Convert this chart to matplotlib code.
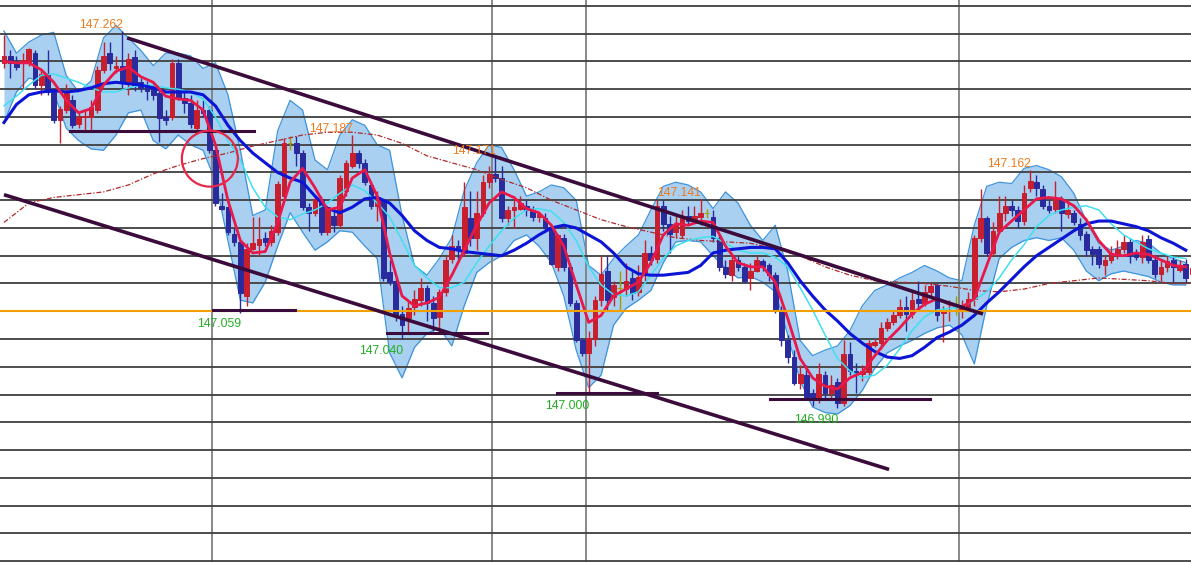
import matplotlib
matplotlib.use("Agg")
import matplotlib.pyplot as plt
from matplotlib.patches import Ellipse
import numpy as np

# 5-minute candles, oldest first
opens = [
    147.239, 147.244, 147.239, 147.239, 147.239, 147.246, 147.223, 147.231, 147.218, 147.198,
    147.205, 147.212, 147.195, 147.200, 147.200, 147.205, 147.234, 147.246, 147.235, 147.237,
    147.225, 147.243, 147.225, 147.223, 147.221, 147.217, 147.200, 147.200, 147.239, 147.214,
    147.210, 147.192, 147.205, 147.205, 147.176, 147.136, 147.135, 147.116, 147.110, 147.071,
    147.105, 147.108, 147.113, 147.110, 147.117, 147.143, 147.181, 147.181, 147.174, 147.135,
    147.131, 147.141, 147.117, 147.129, 147.122, 147.147, 147.165, 147.174, 147.167, 147.151,
    147.136, 147.140, 147.088, 147.082, 147.058, 147.055, 147.063, 147.068, 147.077, 147.066,
    147.056, 147.074, 147.098, 147.107, 147.102, 147.127, 147.113, 147.131, 147.153, 147.159,
    147.156, 147.127, 147.133, 147.134, 147.136, 147.133, 147.128, 147.127, 147.120, 147.092,
    147.113, 147.092, 147.066, 147.039, 147.030, 147.040, 147.068, 147.089, 147.070, 147.077,
    147.076, 147.084, 147.074, 147.086, 147.102, 147.098, 147.136, 147.123, 147.117, 147.115,
    147.129, 147.125, 147.128, 147.131, 147.128, 147.113, 147.092, 147.086, 147.097, 147.092,
    147.084, 147.089, 147.096, 147.093, 147.086, 147.061, 147.039, 147.027, 147.008, 147.014,
    147.001, 146.996, 147.014, 147.001, 147.009, 146.994, 147.029, 147.017, 147.015, 147.016,
    147.036, 147.037, 147.048, 147.052, 147.057, 147.063, 147.058, 147.069, 147.066, 147.074,
    147.079, 147.059, 147.060, 147.061, 147.061, 147.063, 147.069, 147.113, 147.127, 147.102,
    147.118, 147.131, 147.136, 147.133, 147.125, 147.149, 147.153, 147.148, 147.136, 147.134,
    147.140, 147.130, 147.131, 147.123, 147.116, 147.105, 147.105, 147.093, 147.097, 147.101,
    147.105, 147.110, 147.102, 147.099, 147.112, 147.097, 147.087, 147.092, 147.097, 147.090,
    147.094, 147.087,
]
highs = [
    147.259, 147.248, 147.244, 147.246, 147.250, 147.248, 147.234, 147.248, 147.219, 147.208,
    147.224, 147.216, 147.203, 147.206, 147.212, 147.237, 147.254, 147.254, 147.244, 147.262,
    147.246, 147.248, 147.228, 147.226, 147.225, 147.219, 147.205, 147.242, 147.242, 147.219,
    147.216, 147.212, 147.212, 147.208, 147.177, 147.145, 147.136, 147.120, 147.111, 147.109,
    147.128, 147.128, 147.117, 147.122, 147.154, 147.185, 147.186, 147.186, 147.176, 147.138,
    147.143, 147.143, 147.136, 147.135, 147.158, 147.169, 147.187, 147.176, 147.170, 147.152,
    147.147, 147.141, 147.097, 147.084, 147.064, 147.068, 147.075, 147.084, 147.079, 147.071,
    147.076, 147.100, 147.115, 147.111, 147.153, 147.147, 147.147, 147.158, 147.165, 147.171,
    147.165, 147.136, 147.143, 147.143, 147.140, 147.136, 147.131, 147.131, 147.122, 147.116,
    147.116, 147.095, 147.068, 147.041, 147.046, 147.071, 147.100, 147.100, 147.082, 147.089,
    147.095, 147.089, 147.093, 147.111, 147.107, 147.140, 147.140, 147.129, 147.129, 147.133,
    147.136, 147.136, 147.141, 147.134, 147.133, 147.115, 147.097, 147.100, 147.100, 147.095,
    147.095, 147.100, 147.098, 147.095, 147.088, 147.064, 147.043, 147.032, 147.021, 147.021,
    147.004, 147.023, 147.017, 147.014, 147.012, 147.039, 147.038, 147.023, 147.021, 147.039,
    147.040, 147.052, 147.055, 147.061, 147.069, 147.071, 147.075, 147.082, 147.079, 147.081,
    147.080, 147.064, 147.068, 147.071, 147.068, 147.074, 147.115, 147.148, 147.129, 147.124,
    147.143, 147.143, 147.140, 147.136, 147.151, 147.162, 147.158, 147.151, 147.140, 147.154,
    147.143, 147.140, 147.133, 147.127, 147.118, 147.107, 147.107, 147.100, 147.107, 147.111,
    147.115, 147.113, 147.105, 147.115, 147.115, 147.100, 147.097, 147.100, 147.100, 147.097,
    147.098, 147.095,
]
lows = [
    147.235, 147.228, 147.234, 147.221, 147.237, 147.221, 147.216, 147.216, 147.196, 147.181,
    147.203, 147.192, 147.192, 147.189, 147.189, 147.203, 147.232, 147.234, 147.232, 147.221,
    147.216, 147.219, 147.218, 147.212, 147.212, 147.182, 147.194, 147.198, 147.212, 147.203,
    147.192, 147.190, 147.201, 147.174, 147.136, 147.133, 147.115, 147.107, 147.059, 147.064,
    147.104, 147.100, 147.107, 147.107, 147.115, 147.142, 147.176, 147.165, 147.133, 147.118,
    147.129, 147.115, 147.115, 147.117, 147.120, 147.143, 147.163, 147.163, 147.151, 147.134,
    147.125, 147.082, 147.079, 147.053, 147.040, 147.045, 147.057, 147.064, 147.053, 147.046,
    147.045, 147.071, 147.095, 147.098, 147.100, 147.107, 147.104, 147.129, 147.149, 147.153,
    147.124, 147.122, 147.120, 147.133, 147.129, 147.125, 147.124, 147.118, 147.093, 147.089,
    147.089, 147.064, 147.038, 147.028, 147.000, 147.035, 147.064, 147.061, 147.064, 147.061,
    147.071, 147.068, 147.071, 147.082, 147.093, 147.095, 147.118, 147.102, 147.113, 147.113,
    147.122, 147.124, 147.122, 147.127, 147.110, 147.089, 147.084, 147.082, 147.089, 147.080,
    147.075, 147.088, 147.089, 147.082, 147.059, 147.035, 147.023, 147.007, 147.004, 146.996,
    146.992, 146.994, 146.996, 146.997, 146.990, 146.992, 147.014, 147.001, 147.010, 147.014,
    147.034, 147.033, 147.046, 147.050, 147.055, 147.046, 147.055, 147.061, 147.064, 147.071,
    147.053, 147.038, 147.053, 147.057, 147.055, 147.061, 147.064, 147.110, 147.100, 147.100,
    147.116, 147.125, 147.129, 147.120, 147.122, 147.146, 147.143, 147.134, 147.131, 147.131,
    147.118, 147.127, 147.122, 147.111, 147.100, 147.093, 147.091, 147.086, 147.095, 147.098,
    147.102, 147.095, 147.097, 147.095, 147.095, 147.084, 147.082, 147.088, 147.081, 147.088,
    147.080, 147.084,
]
closes = [
    147.244, 147.239, 147.236, 147.241, 147.249, 147.223, 147.231, 147.218, 147.198, 147.206,
    147.217, 147.194, 147.200, 147.201, 147.207, 147.234, 147.244, 147.239, 147.237, 147.225,
    147.242, 147.223, 147.221, 147.219, 147.216, 147.199, 147.198, 147.239, 147.214, 147.210,
    147.195, 147.205, 147.203, 147.176, 147.138, 147.134, 147.117, 147.110, 147.073, 147.105,
    147.109, 147.112, 147.110, 147.118, 147.152, 147.181, 147.181, 147.174, 147.135, 147.131,
    147.141, 147.117, 147.135, 147.122, 147.156, 147.167, 147.174, 147.167, 147.153, 147.136,
    147.142, 147.084, 147.081, 147.057, 147.050, 147.062, 147.069, 147.077, 147.066, 147.055,
    147.074, 147.097, 147.107, 147.104, 147.135, 147.113, 147.131, 147.153, 147.159, 147.156,
    147.127, 147.133, 147.135, 147.138, 147.133, 147.128, 147.130, 147.120, 147.094, 147.115,
    147.092, 147.066, 147.039, 147.030, 147.041, 147.068, 147.087, 147.068, 147.079, 147.077,
    147.082, 147.073, 147.085, 147.102, 147.097, 147.136, 147.123, 147.116, 147.122, 147.127,
    147.125, 147.129, 147.131, 147.131, 147.113, 147.092, 147.087, 147.097, 147.092, 147.082,
    147.089, 147.097, 147.092, 147.086, 147.061, 147.039, 147.027, 147.008, 147.015, 146.998,
    146.996, 147.015, 147.001, 147.007, 146.994, 147.029, 147.017, 147.015, 147.017, 147.037,
    147.038, 147.048, 147.052, 147.057, 147.063, 147.058, 147.068, 147.066, 147.074, 147.078,
    147.057, 147.061, 147.061, 147.061, 147.063, 147.069, 147.113, 147.127, 147.102, 147.118,
    147.131, 147.136, 147.133, 147.125, 147.145, 147.154, 147.149, 147.136, 147.133, 147.141,
    147.131, 147.133, 147.124, 147.115, 147.104, 147.101, 147.094, 147.097, 147.102, 147.105,
    147.110, 147.100, 147.099, 147.110, 147.097, 147.087, 147.092, 147.096, 147.092, 147.092,
    147.084, 147.091,
]

# indicator lines, read every 2nd candle
ind_x = list(range(0, 192, 2))
ma_fast = [  # red
    147.240, 147.239, 147.239, 147.234, 147.225, 147.212, 147.203, 147.206, 147.223, 147.233,
    147.236, 147.229, 147.225, 147.215, 147.213, 147.212, 147.205, 147.180, 147.140, 147.111,
    147.102, 147.103, 147.124, 147.153, 147.163, 147.149, 147.133, 147.135, 147.156, 147.162,
    147.143, 147.102, 147.071, 147.064, 147.066, 147.070, 147.086, 147.104, 147.122, 147.138,
    147.146, 147.142, 147.134, 147.131, 147.122, 147.107, 147.079, 147.052, 147.057, 147.071,
    147.076, 147.081, 147.095, 147.115, 147.123, 147.122, 147.125, 147.124, 147.107, 147.095,
    147.092, 147.092, 147.081, 147.055, 147.026, 147.012, 147.006, 147.004, 147.012, 147.016,
    147.028, 147.039, 147.048, 147.058, 147.065, 147.069, 147.065, 147.063, 147.069, 147.093,
    147.117, 147.125, 147.133, 147.141, 147.142, 147.141, 147.136, 147.126, 147.111, 147.101,
    147.100, 147.102, 147.101, 147.097, 147.093, 147.092,
]
ma_mid = [  # cyan
    147.208, 147.215, 147.223, 147.230, 147.231, 147.228, 147.225, 147.221, 147.218, 147.218,
    147.221, 147.223, 147.223, 147.221, 147.220, 147.218, 147.213, 147.200, 147.183, 147.169,
    147.149, 147.135, 147.128, 147.126, 147.130, 147.133, 147.138, 147.145, 147.151, 147.147,
    147.138, 147.128, 147.111, 147.093, 147.084, 147.077, 147.077, 147.081, 147.095, 147.107,
    147.118, 147.127, 147.133, 147.134, 147.132, 147.124, 147.111, 147.092, 147.079, 147.072,
    147.071, 147.074, 147.086, 147.098, 147.107, 147.111, 147.113, 147.114, 147.109, 147.104,
    147.102, 147.102, 147.099, 147.092, 147.077, 147.061, 147.043, 147.026, 147.017, 147.012,
    147.014, 147.021, 147.033, 147.046, 147.056, 147.061, 147.062, 147.063, 147.068, 147.074,
    147.084, 147.097, 147.108, 147.121, 147.129, 147.133, 147.135, 147.136, 147.133, 147.123,
    147.115, 147.110, 147.105, 147.102, 147.099, 147.098,
]
ma_slow = [  # blue
    147.196, 147.209, 147.216, 147.218, 147.219, 147.218, 147.219, 147.221, 147.224, 147.225,
    147.224, 147.223, 147.221, 147.218, 147.218, 147.218, 147.216, 147.208, 147.194, 147.183,
    147.174, 147.167, 147.160, 147.156, 147.153, 147.143, 147.134, 147.131, 147.135, 147.141,
    147.142, 147.138, 147.129, 147.118, 147.111, 147.106, 147.105, 147.103, 147.102, 147.101,
    147.100, 147.104, 147.109, 147.115, 147.120, 147.122, 147.120, 147.115, 147.110, 147.102,
    147.092, 147.087, 147.086, 147.086, 147.087, 147.088, 147.093, 147.102, 147.104, 147.105,
    147.106, 147.106, 147.105, 147.095, 147.082, 147.071, 147.061, 147.053, 147.044, 147.037,
    147.031, 147.027, 147.026, 147.028, 147.034, 147.041, 147.045, 147.050, 147.057, 147.066,
    147.074, 147.083, 147.092, 147.100, 147.106, 147.112, 147.118, 147.123, 147.125, 147.125,
    147.123, 147.121, 147.118, 147.113, 147.109, 147.104,
]
band_upper = [
    147.262, 147.246, 147.254, 147.259, 147.261, 147.230, 147.218, 147.226, 147.257, 147.266,
    147.257, 147.248, 147.237, 147.246, 147.246, 147.244, 147.235, 147.239, 147.216, 147.176,
    147.129, 147.133, 147.190, 147.212, 147.205, 147.169, 147.162, 147.187, 147.198, 147.194,
    147.180, 147.176, 147.129, 147.093, 147.086, 147.098, 147.113, 147.147, 147.167, 147.180,
    147.178, 147.162, 147.143, 147.146, 147.151, 147.149, 147.140, 147.093, 147.086, 147.098,
    147.107, 147.115, 147.133, 147.150, 147.153, 147.151, 147.146, 147.134, 147.146, 147.138,
    147.122, 147.111, 147.122, 147.089, 147.039, 147.028, 147.032, 147.035, 147.046, 147.064,
    147.075, 147.079, 147.084, 147.088, 147.093, 147.089, 147.084, 147.082, 147.122, 147.150,
    147.153, 147.152, 147.163, 147.165, 147.162, 147.157, 147.145, 147.125, 147.109, 147.104,
    147.107, 147.111, 147.109, 147.102, 147.098, 147.095,
]
band_lower = [
    147.196, 147.218, 147.228, 147.226, 147.218, 147.192, 147.183, 147.177, 147.176, 147.187,
    147.203, 147.205, 147.183, 147.177, 147.187, 147.180, 147.176, 147.154, 147.111, 147.068,
    147.066, 147.081, 147.107, 147.131, 147.117, 147.104, 147.110, 147.118, 147.117, 147.107,
    147.098, 147.030, 147.012, 147.034, 147.044, 147.048, 147.035, 147.064, 147.088, 147.095,
    147.100, 147.111, 147.115, 147.107, 147.095, 147.071, 147.032, 147.005, 147.014, 147.050,
    147.062, 147.068, 147.075, 147.095, 147.110, 147.111, 147.110, 147.100, 147.091, 147.084,
    147.085, 147.081, 147.074, 147.043, 147.010, 146.991, 146.987, 146.986, 146.992, 147.003,
    147.019, 147.030, 147.035, 147.039, 147.044, 147.048, 147.050, 147.043, 147.022, 147.064,
    147.098, 147.106, 147.111, 147.113, 147.111, 147.113, 147.104, 147.089, 147.082, 147.087,
    147.089, 147.087, 147.085, 147.081, 147.079, 147.079,
]
# long moving average, read every 4th candle plus the last one
long_x = list(range(0, 192, 4)) + [191]
ma_long = [
    147.124, 147.138, 147.142, 147.144, 147.146, 147.151, 147.159, 147.165, 147.170, 147.174,
    147.179, 147.183, 147.187, 147.189, 147.189, 147.187, 147.181, 147.172, 147.167, 147.162,
    147.155, 147.149, 147.140, 147.133, 147.126, 147.121, 147.117, 147.113, 147.111, 147.110,
    147.109, 147.105, 147.100, 147.092, 147.086, 147.082, 147.081, 147.080, 147.078, 147.075,
    147.074, 147.076, 147.080, 147.082, 147.084, 147.083, 147.082, 147.080, 147.080,
]

high_marks = [19, 56, 79, 112, 165]
low_marks = [38, 64, 94, 134]

# hand-drawn annotations: (candle index, price)
channel_top = [(19.8, 147.257), (157.4, 147.058)]
channel_bottom = [(0.0, 147.144), (142.3, 146.946)]
support_lines = [(10.6, 40.2, 147.190), (33.6, 46.8, 147.061), (61.6, 77.7, 147.044),
                 (88.9, 105.0, 147.001), (123.2, 148.9, 146.997)]
key_level = 147.060
circle_center = (33.1, 147.170)

session_breaks = [33.5, 78.5, 93.5, 153.5]
price_grid = np.arange(146.88, 147.2801, 0.02)

UP = "#c81e2e"
DOWN = "#2a2a9c"
DOJI = "#a89b00"

fig = plt.figure(figsize=(11.91, 5.62), dpi=100, facecolor="white")
ax = fig.add_axes([0, 0, 1, 1])
ax.set_xlim(-0.64, 190.84)
ax.set_ylim(146.8793, 147.2843)

ax.set_yticks(price_grid)
ax.set_xticks(session_breaks)
ax.yaxis.grid(True, color="#3f3f3f", linewidth=1.3)
ax.xaxis.grid(True, color="#808080", linewidth=1.3)
ax.set_axisbelow("line")
ax.tick_params(length=0, labelleft=False, labelbottom=False)
for s in ax.spines.values():
    s.set_visible(False)

# bollinger-style band
ax.fill_between(ind_x, band_lower, band_upper, color="#a9cff1", linewidth=0, zorder=1)
ax.plot(ind_x, band_upper, color="#3d94dc", linewidth=0.9, zorder=1.2)
ax.plot(ind_x, band_lower, color="#3d94dc", linewidth=0.9, zorder=1.2)

# candles
x = np.arange(len(closes))
o = np.array(opens)
c = np.array(closes)
cols = [UP if cc > oo else DOWN if cc < oo else DOJI for oo, cc in zip(o, c)]
ax.vlines(x, lows, highs, colors=cols, linewidth=1.0, zorder=2.8)
ax.bar(x, np.abs(c - o), bottom=np.minimum(o, c), width=0.76, color=cols,
       edgecolor=cols, linewidth=0.7, zorder=3)

# moving averages
ax.plot(long_x, ma_long, color="#b0282a", linewidth=0.9, dashes=(4, 1.5, 1, 1.5), zorder=3.5)
ax.plot(ind_x, ma_mid, color="#3fe0f0", linewidth=1.1, zorder=4)
ax.plot(ind_x, ma_slow, color="#0c14d6", linewidth=2.2, zorder=4.1)
ax.plot(ind_x, ma_fast, color="#e8194a", linewidth=2.0, zorder=4.2)

# annotations
ax.axhline(key_level, color="#f2a000", linewidth=1.5, zorder=4.5)
line_color = "#3b0b3c"
for seg in (channel_top, channel_bottom):
    ax.plot([p[0] for p in seg], [p[1] for p in seg], color=line_color,
            linewidth=2.6, solid_capstyle="butt", zorder=6)
for x0, x1, lvl in support_lines:
    ax.plot([x0, x1], [lvl, lvl], color=line_color, linewidth=2.2, zorder=6)
ax.add_patch(Ellipse(circle_center, width=9.0, height=0.0404, fill=False,
                     edgecolor="#e8284a", linewidth=1.6, zorder=6))

font = dict(family=["Liberation Sans", "DejaVu Sans"], fontsize=8.8)
for i in high_marks:
    ax.annotate(f"{highs[i]:.3f}", (i, highs[i]), xytext=(0.5, 0), textcoords="offset points",
                ha="right", va="bottom", color="#f07a1a", zorder=7, **font)
for i in low_marks:
    ax.annotate(f"{lows[i]:.3f}", (i, lows[i]), xytext=(0.5, -4), textcoords="offset points",
                ha="right", va="top", color="#22b022", zorder=7, **font)

fig.savefig("out.png", dpi=100, facecolor="white")
